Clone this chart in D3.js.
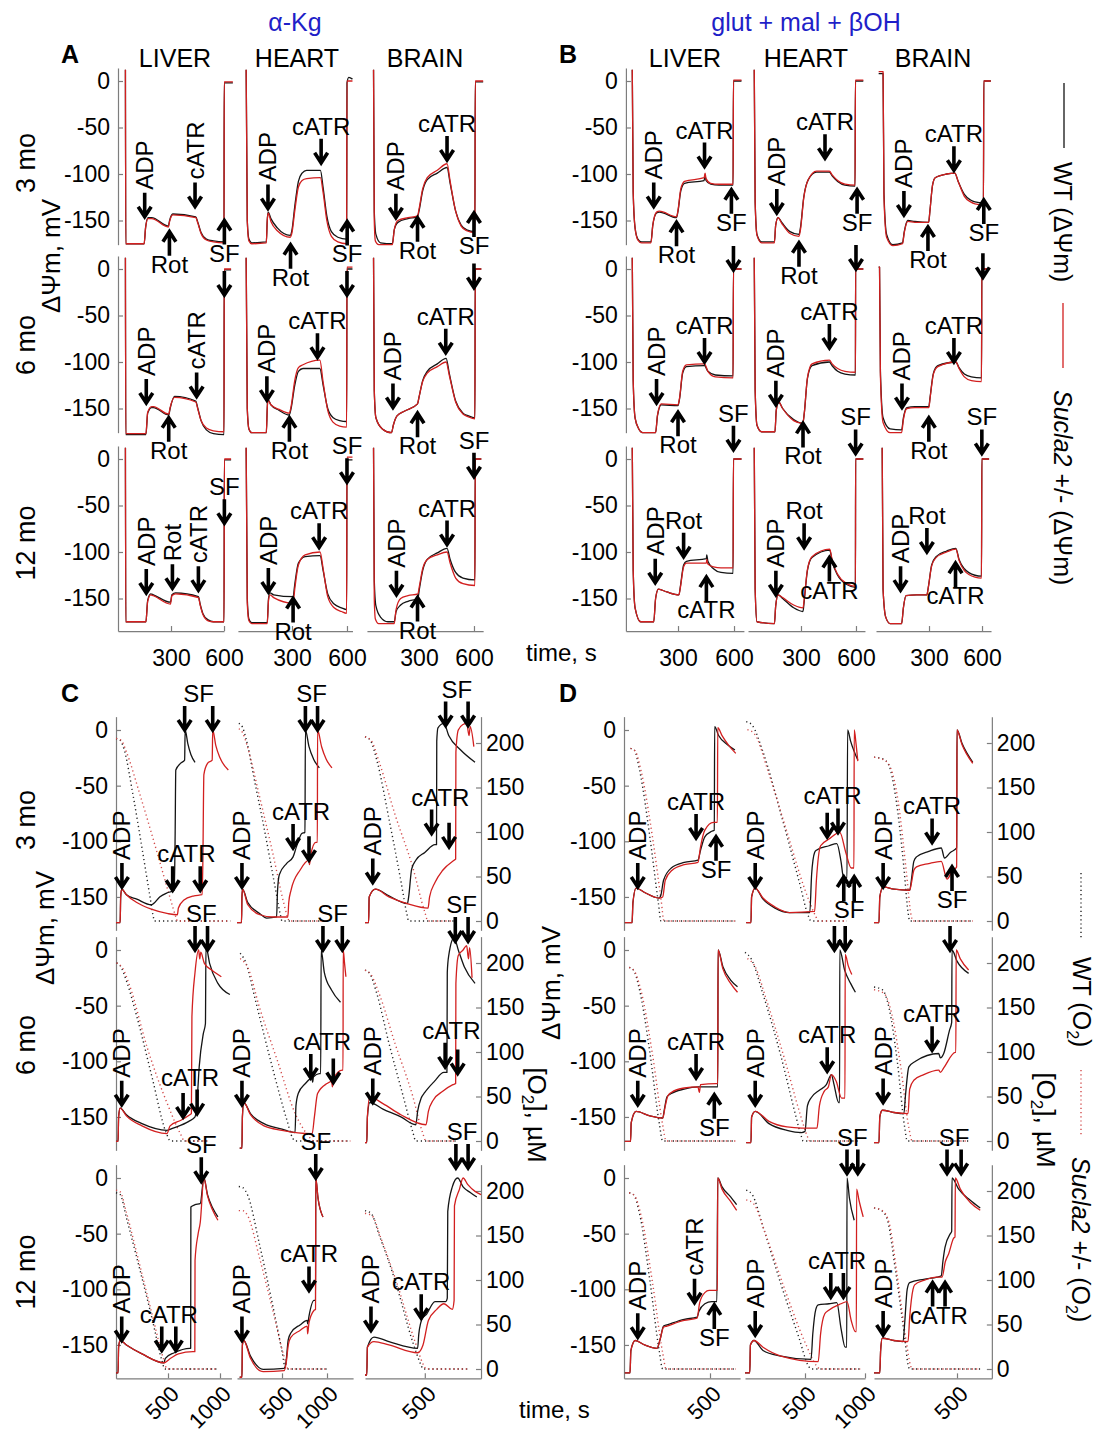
<!DOCTYPE html>
<html>
<head>
<meta charset="utf-8">
<script src="https://cdn.jsdelivr.net/npm/d3@7"></script>
<style>
  html, body { margin: 0; padding: 0; background: #fff; }
  svg { display: block; }
</style>
</head>
<body>
<script>
// ---------------------------------------------------------------
// Categories and tick values
// ---------------------------------------------------------------
const tissues = ["LIVER", "HEART", "BRAIN"];
const ages = ["3 mo", "6 mo", "12 mo"];
const ticksMV = [0, -50, -100, -150];
const ticksO2 = [0, 50, 100, 150, 200];
const ticksAB = [[300, 600], [300, 600], [300, 600]];
const ticksC = [[500, 1000], [500, 1000], [500]];
const ticksD = [[500], [500, 1000], [500]];

// ---------------------------------------------------------------
// Membrane potential traces, [time s, dPsi mV]; order: row (age) x column (tissue)
// A: alpha-ketoglutarate, B: glutamate + malate + beta-hydroxybutyrate
// ---------------------------------------------------------------
const psiA_wt = [
  [[42,12],[44,-175],[148,-175],[156,-158],[170,-147],[190,-147],[285,-156],[292,-150],[310,-143],[440,-146],[452,-152],[470,-163],[500,-170],[540,-172],[600,-173],[601,-2],[650,-2]],
  [[50,12],[56,-150],[65,-170],[80,-174],[160,-173],[165,-150],[170,-141],[185,-148],[220,-158],[290,-166],[300,-160],[315,-135],[335,-108],[355,-99],[380,-96],[455,-96],[470,-115],[490,-145],[515,-162],[550,-168],[598,-170],[600,-2],[610,4],[630,2]],
  [[52,12],[56,-140],[65,-165],[90,-174],[155,-175],[165,-160],[185,-152],[240,-148],[292,-146],[300,-140],[320,-118],[345,-106],[400,-99],[453,-93],[470,-110],[500,-140],[530,-155],[560,-160],[605,-162],[607,-1],[650,-1]],
  [[42,12],[44,-178],[158,-178],[168,-155],[190,-149],[200,-149],[287,-157],[295,-150],[320,-137],[440,-142],[452,-150],[470,-163],[500,-173],[540,-177],[600,-178],[601,-1],[640,-1]],
  [[50,12],[56,-150],[65,-172],[80,-176],[160,-176],[165,-150],[168,-140],[185,-146],[230,-152],[285,-157],[295,-150],[315,-125],[335,-110],[360,-107],[452,-107],[470,-125],[495,-150],[525,-160],[560,-163],[598,-164],[600,0],[630,0]],
  [[52,12],[56,-130],[65,-160],[100,-172],[150,-176],[160,-168],[180,-158],[220,-153],[292,-145],[300,-138],[320,-120],[345,-110],[400,-102],[448,-96],[465,-112],[500,-142],[540,-155],[570,-158],[605,-160],[607,0],[640,0]],
  [[42,12],[44,-175],[158,-175],[168,-152],[185,-145],[200,-146],[297,-154],[305,-146],[326,-144],[455,-148],[465,-156],[480,-166],[510,-173],[540,-175],[600,-175],[602,-1],[640,-1]],
  [[50,12],[56,-150],[65,-172],[80,-176],[165,-176],[172,-150],[180,-144],[200,-146],[306,-148],[315,-135],[335,-112],[372,-105],[453,-104],[470,-120],[495,-145],[530,-156],[570,-160],[598,-162],[600,-1],[630,-1]],
  [[52,12],[56,-130],[65,-158],[90,-170],[130,-175],[165,-175],[175,-164],[200,-157],[240,-153],[294,-150],[302,-140],[320,-120],[345,-108],[400,-101],[453,-96],[470,-108],[500,-122],[540,-128],[605,-130],[607,0],[640,0]]
];
const psiA_mut = [
  [[42,12],[44,-175],[148,-175],[156,-158],[170,-148],[190,-148],[285,-157],[292,-151],[310,-144],[440,-147],[452,-153],[470,-164],[500,-171],[540,-173],[600,-174],[601,-1],[650,-1]],
  [[50,12],[56,-150],[65,-172],[80,-175],[160,-174],[165,-150],[170,-142],[185,-151],[220,-161],[290,-168],[300,-163],[315,-140],[335,-114],[355,-107],[380,-105],[455,-104],[470,-120],[490,-150],[515,-167],[550,-173],[598,-175],[600,0],[630,0]],
  [[52,12],[56,-150],[62,-172],[80,-176],[155,-176],[165,-160],[185,-150],[240,-147],[292,-145],[300,-138],[320,-116],[345,-104],[400,-96],[453,-89],[470,-108],[500,-140],[530,-156],[560,-161],[605,-163],[607,0],[650,0]],
  [[42,12],[44,-177],[158,-177],[168,-154],[190,-148],[200,-148],[287,-156],[295,-149],[320,-138],[440,-143],[452,-151],[470,-163],[500,-171],[540,-174],[600,-175],[601,0],[640,0]],
  [[50,12],[56,-150],[65,-172],[80,-176],[160,-176],[165,-150],[168,-141],[185,-146],[230,-151],[285,-155],[295,-148],[315,-120],[335,-106],[360,-103],[452,-98],[470,-122],[495,-152],[525,-165],[560,-169],[598,-170],[600,2],[630,2]],
  [[52,12],[56,-130],[65,-160],[100,-172],[150,-176],[160,-168],[180,-158],[220,-153],[292,-145],[300,-138],[320,-121],[345,-112],[400,-105],[448,-100],[465,-114],[500,-143],[540,-156],[570,-159],[605,-161],[607,0],[640,0]],
  [[42,12],[44,-175],[158,-175],[168,-153],[185,-146],[200,-147],[297,-156],[305,-147],[326,-145],[455,-149],[465,-157],[480,-167],[510,-174],[540,-175],[600,-175],[602,0],[640,0]],
  [[50,12],[56,-155],[65,-174],[80,-177],[165,-177],[172,-152],[180,-146],[200,-149],[306,-155],[315,-140],[335,-114],[372,-103],[453,-100],[470,-118],[495,-148],[530,-160],[570,-164],[598,-166],[600,2],[630,2]],
  [[52,12],[56,-150],[62,-172],[80,-177],[165,-177],[175,-162],[200,-150],[240,-147],[294,-145],[302,-137],[320,-118],[345,-108],[400,-103],[453,-100],[470,-112],[500,-128],[540,-134],[605,-136],[607,0],[640,0]]
];
const psiB_wt = [
  [[55,12],[60,-120],[70,-158],[85,-170],[105,-173],[155,-173],[165,-155],[185,-142],[200,-141],[292,-147],[300,-140],[315,-118],[335,-110],[440,-107],[445,-101],[450,-107],[475,-111],[520,-112],[595,-112],[597,0],[640,0]],
  [[45,12],[50,-130],[60,-165],[85,-173],[155,-173],[162,-155],[175,-147],[195,-152],[240,-162],[289,-165],[297,-158],[315,-125],[340,-106],[385,-98],[455,-98],[470,-102],[500,-108],[540,-112],[595,-113],[597,0],[640,0]],
  [[15,8],[40,8],[45,-120],[60,-165],[95,-176],[150,-174],[160,-162],[180,-150],[220,-151],[298,-152],[305,-140],[320,-112],[335,-104],[400,-100],[446,-99],[465,-108],[500,-122],[535,-128],[560,-130],[608,-131],[610,0],[650,0]],
  [[55,12],[60,-120],[70,-160],[90,-172],[110,-176],[180,-176],[190,-158],[210,-146],[300,-147],[308,-140],[325,-112],[345,-105],[442,-104],[460,-110],[500,-114],[595,-115],[597,0],[640,0]],
  [[45,12],[50,-130],[60,-168],[85,-175],[158,-175],[165,-152],[178,-143],[200,-150],[260,-162],[310,-166],[318,-155],[335,-118],[360,-104],[455,-100],[470,-104],[500,-110],[540,-113],[597,-114],[598,0],[640,0]],
  [[15,2],[20,2],[25,-110],[40,-160],[80,-172],[145,-173],[155,-160],[175,-149],[220,-148],[299,-148],[306,-138],[325,-112],[350,-104],[452,-100],[470,-106],[500,-113],[540,-116],[597,-117],[599,0],[640,0]],
  [[55,12],[60,-120],[70,-160],[100,-175],[170,-175],[180,-150],[195,-140],[240,-143],[305,-146],[312,-138],[330,-114],[345,-110],[452,-107],[454,-103],[460,-110],[490,-118],[530,-122],[595,-123],[597,0],[640,0]],
  [[45,12],[50,-140],[60,-175],[155,-177],[162,-158],[175,-146],[200,-150],[260,-160],[311,-164],[318,-152],[335,-120],[360,-106],[457,-98],[470,-110],[500,-125],[550,-135],[597,-138],[598,0],[640,0]],
  [[35,12],[40,-140],[55,-170],[80,-177],[145,-177],[155,-160],[170,-147],[230,-146],[288,-146],[296,-138],[315,-114],[340,-105],[400,-99],[452,-96],[470,-108],[500,-118],[560,-125],[597,-126],[599,0],[640,0]]
];
const psiB_mut = [
  [[55,12],[60,-120],[70,-158],[85,-171],[105,-174],[155,-174],[165,-155],[185,-141],[200,-140],[292,-146],[300,-139],[315,-116],[335,-108],[440,-104],[445,-99],[450,-105],[475,-110],[520,-111],[595,-111],[597,1],[640,1]],
  [[45,12],[50,-130],[60,-166],[85,-174],[155,-174],[162,-155],[175,-147],[195,-153],[240,-164],[289,-167],[297,-160],[315,-126],[340,-106],[385,-97],[455,-97],[470,-101],[500,-107],[540,-111],[595,-112],[597,1],[640,1]],
  [[15,10],[40,10],[45,-125],[60,-168],[95,-177],[150,-175],[160,-163],[180,-151],[220,-152],[298,-152],[305,-140],[320,-112],[335,-104],[400,-100],[446,-99],[465,-108],[500,-124],[535,-130],[560,-132],[608,-133],[610,0],[650,0]],
  [[55,12],[60,-120],[70,-160],[90,-172],[110,-176],[180,-176],[190,-157],[210,-145],[300,-146],[308,-139],[325,-110],[345,-103],[442,-102],[460,-110],[500,-116],[595,-117],[597,0],[640,0]],
  [[45,12],[50,-130],[60,-168],[85,-175],[158,-175],[165,-152],[178,-143],[200,-150],[260,-163],[310,-166],[318,-155],[335,-117],[360,-102],[455,-98],[470,-102],[500,-107],[540,-110],[597,-111],[598,0],[640,0]],
  [[15,2],[20,2],[25,-115],[40,-165],[80,-176],[145,-176],[155,-162],[175,-150],[220,-149],[299,-149],[306,-139],[325,-113],[350,-105],[452,-100],[470,-107],[500,-116],[540,-120],[597,-121],[599,0],[640,0]],
  [[55,12],[60,-120],[70,-160],[100,-175],[170,-175],[180,-150],[195,-140],[240,-143],[305,-146],[312,-139],[330,-116],[345,-112],[452,-112],[454,-108],[460,-113],[490,-116],[530,-117],[595,-117],[597,0],[640,0]],
  [[45,12],[50,-140],[60,-175],[155,-177],[162,-158],[175,-146],[200,-149],[260,-157],[311,-160],[318,-150],[335,-119],[360,-105],[457,-97],[470,-109],[500,-124],[550,-134],[597,-137],[598,0],[640,0]],
  [[35,12],[40,-140],[55,-170],[80,-177],[145,-177],[155,-160],[170,-147],[230,-146],[288,-146],[296,-138],[315,-115],[340,-106],[400,-100],[452,-97],[470,-109],[500,-120],[560,-127],[597,-128],[599,0],[640,0]]
];

// ---------------------------------------------------------------
// C: alpha-ketoglutarate, D: glutamate + malate + beta-hydroxybutyrate,
// dPsi (mV) together with oxygen in the chamber (uM)
// ---------------------------------------------------------------
const psiC_wt = [
  [[0,-173],[40,-173],[45,-150],[55,-143],[100,-148],[200,-152],[340,-157],[360,-156],[420,-150],[500,-146],[560,-144],[568,-100],[575,-36],[620,-30],[660,-27],[665,0],[690,-12],[720,-22],[760,-29]],
  [[0,-173],[50,-173],[55,-150],[62,-143],[120,-155],[255,-165],[330,-169],[440,-168],[450,-145],[470,-130],[550,-120],[623,-114],[660,-105],[720,-93],[755,-92],[760,0],[800,-15],[850,-26],[915,-34]],
  [[0,-173],[30,-173],[35,-150],[87,-143],[200,-149],[355,-156],[365,-150],[390,-125],[425,-117],[500,-110],[585,-103],[598,-103],[600,-10],[610,2],[660,6],[700,-5],[800,-18],[920,-29]],
  [[0,-172],[20,-172],[25,-150],[40,-142],[100,-148],[250,-156],[490,-162],[550,-160],[700,-154],[760,-150],[780,-135],[800,-105],[840,-75],[860,-66],[865,3],[900,-12],[980,-30],[1095,-40]],
  [[30,-178],[55,-178],[60,-150],[75,-137],[150,-147],[300,-156],[500,-161],[645,-164],[655,-140],[680,-129],[760,-120],[835,-115],[840,-119],[850,-114],[915,-111],[930,-111],[935,0],[970,-20],[1050,-36],[1150,-47]],
  [[0,-173],[15,-173],[20,-150],[40,-137],[150,-143],[300,-150],[425,-157],[440,-145],[470,-133],[500,-128],[580,-118],[660,-110],[685,-110],[688,-20],[700,-5],[745,11],[780,0],[830,-15],[920,-30]],
  [[0,-175],[20,-175],[25,-152],[40,-146],[100,-150],[250,-158],[460,-166],[475,-162],[560,-157],[710,-153],[718,-153],[720,-26],[760,-24],[810,-23],[845,0],[880,-15],[930,-27],[980,-35]],
  [[30,-179],[55,-179],[60,-150],[75,-146],[150,-160],[290,-172],[525,-171],[545,-165],[570,-145],[600,-139],[700,-132],[780,-128],[785,-131],[800,-124],[855,-110],[873,-110],[875,0],[900,-18],[955,-35]],
  [[0,-177],[15,-177],[20,-152],[75,-143],[200,-147],[440,-153],[450,-140],[480,-126],[510,-123],[585,-111],[675,-111],[688,-108],[692,-30],[730,-8],[775,0],[820,-8],[880,-13],[935,-17]]
];
const psiC_mut = [
  [[0,-173],[40,-173],[45,-150],[55,-143],[100,-148],[200,-155],[340,-161],[500,-165],[590,-166],[600,-160],[650,-153],[750,-149],[828,-148],[835,-120],[845,-40],[880,-30],[925,-27],[930,0],[960,-14],[1000,-25],[1080,-36]],
  [[0,-173],[50,-173],[55,-150],[62,-143],[120,-157],[255,-166],[400,-168],[565,-168],[575,-155],[600,-144],[700,-126],[800,-117],[805,-121],[820,-112],[875,-101],[893,-101],[895,0],[940,-15],[990,-26],[1055,-34]],
  [[0,-173],[30,-173],[35,-150],[87,-143],[200,-150],[355,-156],[527,-160],[540,-150],[585,-137],[650,-126],[745,-117],[758,-116],[760,-20],[780,0],[820,5],[850,6],[870,-5],[880,3],[910,-15]],
  [[0,-172],[20,-172],[25,-150],[40,-142],[100,-149],[250,-158],[490,-165],[520,-158],[625,-153],[710,-148],[725,-147],[730,-60],[760,-20],[795,0],[805,-8],[815,-2],[850,-12],[920,-18],[1013,-24]],
  [[30,-178],[55,-178],[60,-150],[75,-137],[150,-148],[300,-158],[500,-162],[835,-165],[860,-150],[895,-129],[1000,-120],[1052,-118],[1060,-123],[1070,-116],[1170,-108],[1178,-108],[1180,0],[1195,-12],[1210,-24]],
  [[0,-173],[15,-173],[20,-150],[40,-132],[150,-138],[300,-148],[510,-157],[530,-145],[570,-135],[650,-127],[735,-121],[758,-120],[760,-30],[780,-5],[820,0],[850,4],[865,-8],[875,2],[895,-25]],
  [[0,-175],[20,-175],[25,-152],[40,-146],[100,-150],[250,-158],[460,-166],[525,-162],[600,-158],[740,-156],[758,-156],[760,-74],[790,-50],[810,-40],[845,0],[880,-16],[930,-29],[980,-38]],
  [[30,-179],[55,-179],[60,-150],[75,-146],[150,-162],[290,-174],[525,-173],[545,-167],[570,-150],[600,-143],[700,-137],[780,-133],[785,-140],[800,-130],[855,-119],[873,-118],[875,0],[900,-18],[955,-35]],
  [[0,-177],[15,-177],[20,-152],[75,-147],[200,-150],[440,-157],[485,-150],[530,-128],[600,-118],[660,-113],[730,-118],[745,-110],[748,-25],[790,-10],[820,0],[860,-6],[920,-12],[970,-15]]
];
const o2C_wt = [
  [[0,205],[40,203],[80,192],[160,144],[250,82],[330,25],[360,4],[370,0],[1100,0]],
  [[20,222],[60,218],[100,205],[200,155],[300,105],[420,40],[480,8],[500,0],[1000,0]],
  [[0,207],[40,204],[100,180],[200,115],[300,45],[350,8],[365,0],[740,0]],
  [[5,200],[40,197],[100,180],[200,140],[350,70],[480,10],[525,0],[880,0]],
  [[35,211],[100,200],[200,160],[400,80],[550,25],[620,3],[645,0],[1260,0]],
  [[0,192],[40,188],[100,165],[200,110],[320,50],[400,10],[425,0],[760,0]],
  [[0,198],[40,196],[100,170],[200,125],[350,55],[440,10],[470,0],[980,0]],
  [[20,205],[60,204],[120,195],[250,140],[400,70],[500,20],[540,0],[1000,0]],
  [[0,178],[50,175],[120,150],[250,100],[400,30],[470,4],[485,0],[870,0]]
];
const o2C_mut = [
  [[0,205],[50,203],[100,190],[225,144],[400,75],[530,22],[580,3],[590,0],[1100,0]],
  [[20,216],[60,212],[110,198],[250,140],[400,75],[520,20],[570,2],[580,0],[1000,0]],
  [[0,207],[50,203],[120,178],[250,120],[400,60],[500,10],[527,0],[740,0]],
  [[5,200],[60,195],[130,175],[300,105],[500,40],[620,8],[660,0],[880,0]],
  [[35,205],[120,195],[250,150],[450,90],[650,30],[800,5],[850,0],[1260,0]],
  [[0,192],[50,187],[120,165],[250,110],[400,50],[480,10],[510,0],[760,0]],
  [[0,201],[40,199],[100,176],[200,130],[350,60],[460,10],[490,0],[980,0]],
  [[20,178],[60,178],[120,172],[250,125],[400,65],[520,15],[570,0],[1000,0]],
  [[0,175],[60,172],[130,148],[270,95],[420,30],[495,3],[510,0],[870,0]]
];
const psiD_wt = [
  [[5,-173],[47,-173],[52,-155],[70,-142],[120,-146],[203,-151],[215,-148],[230,-135],[275,-124],[350,-119],[430,-117],[445,-108],[470,-96],[510,-91],[525,-90],[527,3],[550,-5],[600,-13],[645,-18]],
  [[10,-173],[50,-173],[55,-150],[85,-142],[150,-152],[250,-160],[370,-164],[540,-164],[555,-130],[580,-110],[595,-108],[700,-104],[765,-102],[800,-118],[820,-132],[850,-133],[855,0],[880,-10],[940,-27]],
  [[0,-173],[30,-173],[35,-150],[55,-141],[120,-143],[215,-144],[225,-135],[240,-118],[256,-114],[330,-109],[405,-106],[425,-115],[460,-110],[498,-106],[500,0],[530,-12],[595,-29]],
  [[5,-172],[38,-172],[42,-155],[70,-145],[150,-149],[225,-151],[235,-143],[250,-132],[275,-129],[350,-125],[430,-123],[535,-123],[545,-123],[547,0],[575,-15],[620,-27],[660,-33]],
  [[10,-173],[50,-173],[55,-150],[85,-145],[200,-156],[350,-162],[470,-164],[500,-163],[520,-140],[550,-133],[620,-126],[678,-121],[720,-112],[740,-120],[780,-137],[788,-137],[790,0],[830,-18],[880,-30],[920,-38]],
  [[0,-173],[30,-173],[35,-150],[50,-144],[120,-146],[180,-147],[190,-130],[210,-105],[250,-100],[390,-93],[400,-97],[420,-93],[455,-72],[468,-65],[470,0],[500,-10],[570,-21]],
  [[5,-175],[35,-175],[40,-155],[65,-146],[120,-150],[192,-153],[210,-145],[230,-133],[250,-132],[350,-127],[425,-125],[435,-120],[470,-113],[510,-111],[540,-111],[545,0],[570,-8],[620,-17],[655,-24]],
  [[0,-175],[40,-175],[45,-150],[75,-146],[150,-155],[300,-160],[550,-163],[565,-140],[590,-118],[610,-114],[700,-113],[765,-112],[800,-135],[835,-152],[848,-152],[850,0],[870,-18],[910,-38]],
  [[0,-175],[35,-175],[40,-155],[50,-144],[120,-146],[175,-147],[185,-130],[200,-100],[215,-94],[300,-91],[380,-89],[405,-88],[415,-75],[428,-62],[460,-50],[468,-48],[470,0],[510,-10],[580,-20],[640,-27]]
];
const psiD_mut = [
  [[5,-173],[47,-173],[52,-155],[70,-142],[120,-146],[203,-151],[225,-150],[240,-135],[280,-126],[350,-121],[430,-119],[445,-105],[470,-90],[520,-83],[543,-83],[545,2],[570,-5],[610,-14],[650,-21]],
  [[10,-173],[50,-173],[55,-150],[85,-142],[150,-151],[250,-159],[370,-164],[580,-163],[595,-135],[630,-104],[700,-98],[790,-92],[840,-110],[885,-124],[908,-124],[910,0],[925,-12],[940,-28]],
  [[0,-173],[30,-173],[35,-150],[55,-141],[120,-143],[215,-144],[225,-138],[240,-126],[256,-123],[330,-120],[405,-118],[440,-134],[470,-127],[498,-123],[500,0],[530,-13],[595,-30]],
  [[5,-172],[38,-172],[42,-155],[70,-145],[150,-149],[225,-151],[240,-140],[255,-131],[275,-128],[350,-124],[430,-123],[438,-128],[445,-121],[535,-120],[545,-120],[547,0],[575,-17],[620,-30],[660,-38]],
  [[10,-173],[50,-173],[55,-150],[85,-145],[200,-154],[350,-159],[470,-160],[600,-160],[620,-140],[660,-127],[695,-123],[720,-112],[760,-118],[805,-133],[833,-133],[835,-4],[860,-14],[890,-22]],
  [[0,-173],[30,-173],[35,-150],[50,-144],[120,-146],[205,-147],[215,-125],[240,-117],[300,-112],[390,-108],[400,-110],[420,-106],[490,-92],[493,-92],[495,0],[520,-8],[570,-18]],
  [[5,-175],[35,-175],[40,-155],[65,-146],[120,-150],[192,-153],[210,-145],[230,-134],[250,-133],[350,-128],[425,-126],[440,-112],[470,-103],[495,-101],[530,-101],[543,-101],[545,0],[570,-10],[620,-21],[655,-29]],
  [[0,-175],[40,-175],[45,-150],[75,-146],[150,-152],[300,-160],[610,-165],[630,-140],[665,-122],[695,-119],[800,-113],[850,-111],[885,-128],[920,-138],[928,-138],[930,-10],[950,-20],[985,-35]],
  [[0,-175],[35,-175],[40,-155],[50,-144],[120,-146],[205,-147],[215,-125],[235,-100],[245,-96],[300,-92],[380,-89],[410,-89],[430,-75],[450,-68],[480,-54],[488,-53],[490,0],[520,-10],[580,-22],[640,-29]]
];
const o2D_wt = [
  [[38,194],[60,192],[90,170],[150,95],[200,20],[215,0],[650,0]],
  [[10,224],[60,220],[150,190],[300,120],[450,45],[530,5],[550,0],[850,0]],
  [[0,184],[55,182],[90,175],[130,140],[180,60],[205,10],[215,0],[595,0]],
  [[30,195],[55,192],[90,170],[150,100],[205,20],[225,0],[650,0]],
  [[0,212],[50,205],[150,165],[300,95],[420,30],[470,5],[485,0],[950,0]],
  [[0,173],[50,170],[90,150],[140,90],[185,15],[200,0],[570,0]],
  [[30,198],[55,196],[90,175],[150,100],[205,20],[225,0],[650,0]],
  [[10,201],[60,196],[150,160],[300,95],[450,35],[530,3],[550,0],[960,0]],
  [[0,181],[45,178],[80,168],[130,110],[185,35],[205,5],[215,0],[640,0]]
];
const o2D_mut = [
  [[38,194],[65,191],[100,168],[165,95],[215,25],[233,0],[650,0]],
  [[20,215],[80,210],[200,165],[350,100],[500,35],[590,5],[610,0],[850,0]],
  [[0,184],[60,181],[100,172],[145,135],[195,55],[222,8],[235,0],[595,0]],
  [[30,195],[60,191],[100,168],[165,98],[225,18],[245,0],[650,0]],
  [[20,205],[80,197],[180,158],[330,92],[460,30],[520,5],[540,0],[950,0]],
  [[0,170],[60,166],[100,148],[160,85],[210,15],[230,0],[570,0]],
  [[30,198],[60,195],[100,172],[165,98],[225,18],[245,0],[650,0]],
  [[10,190],[70,186],[170,152],[330,90],[500,30],[600,3],[625,0],[960,0]],
  [[0,181],[50,178],[90,165],[140,105],[195,30],[220,4],[230,0],[640,0]]
];

// ---------------------------------------------------------------
// Additions: [cell, label, label placement, arrow direction, [[time, mV at arrow tip], ...]]
// placement: v = vertical text above, a = text above, b = text below, "" = arrow only
// ---------------------------------------------------------------
const eventsA = [
  [0,"ADP","v","d",[[151,-146]]],[0,"Rot","b","u",[[291,-162]]],[0,"cATR","v","d",[[436,-135]]],[0,"SF","b","u",[[602,-150]]],
  [1,"ADP","v","d",[[169,-137]]],[1,"Rot","b","u",[[292,-176]]],[1,"cATR","a","d",[[459,-88]]],[1,"SF","b","u",[[601,-151]]],
  [2,"ADP","v","d",[[174,-147]]],[2,"Rot","b","u",[[292,-147]]],[2,"cATR","a","d",[[453,-85]]],[2,"SF","b","u",[[600,-142]]],
  [3,"","","d",[[602,-28]]],[4,"","","d",[[600,-28]]],[5,"","","d",[[600,-20]]],
  [3,"ADP","v","d",[[160,-144]]],[3,"Rot","b","u",[[287,-160]]],[3,"cATR","v","d",[[445,-137]]],
  [4,"ADP","v","d",[[163,-141]]],[4,"Rot","b","u",[[286,-160]]],[4,"cATR","a","d",[[439,-95]]],
  [5,"ADP","v","d",[[158,-149]]],[5,"Rot","b","u",[[292,-155]]],[5,"cATR","a","d",[[446,-90]]],
  [6,"ADP","v","d",[[160,-144]]],[6,"Rot","v","d",[[308,-139]]],[6,"cATR","v","d",[[455,-141]]],[6,"SF","a","d",[[602,-69]]],
  [7,"ADP","v","d",[[171,-143]]],[7,"Rot","b","u",[[306,-150]]],[7,"cATR","a","d",[[448,-95]]],[7,"SF","a","d",[[600,-25]]],
  [8,"ADP","v","d",[[177,-146]]],[8,"Rot","b","u",[[292,-149]]],[8,"cATR","a","d",[[453,-92]]],[8,"SF","a","d",[[600,-19]]]
];
const eventsB = [
  [0,"ADP","v","d",[[170,-135]]],[0,"cATR","a","d",[[442,-92]]],[0,"Rot","b","u",[[292,-152]]],[0,"SF","b","u",[[586,-117]]],
  [1,"ADP","v","d",[[168,-142]]],[1,"cATR","a","d",[[431,-83]]],[1,"Rot","b","u",[[289,-174]]],[1,"SF","b","u",[[606,-117]]],
  [2,"ADP","v","d",[[158,-144]]],[2,"cATR","a","d",[[441,-96]]],[2,"Rot","b","u",[[294,-157]]],[2,"SF","b","u",[[610,-128]]],
  [3,"","","d",[[597,-1]]],[4,"","","d",[[600,0]]],[5,"","","d",[[605,-9]]],
  [3,"ADP","v","d",[[185,-144]]],[3,"cATR","a","d",[[442,-100]]],[3,"Rot","b","u",[[300,-154]]],
  [4,"ADP","v","d",[[163,-146]]],[4,"cATR","a","d",[[455,-85]]],[4,"Rot","b","u",[[311,-166]]],
  [5,"ADP","v","d",[[147,-149]]],[5,"cATR","a","d",[[441,-100]]],[5,"Rot","b","u",[[299,-160]]],
  [6,"SF","a","d",[[597,10]]],[7,"SF","a","d",[[598,6]]],[8,"SF","a","d",[[599,6]]],
  [6,"ADP","v","d",[[178,-133]]],[6,"Rot","a","d",[[330,-105]]],[6,"cATR","b","u",[[452,-127]]],
  [7,"ADP","v","d",[[163,-146]]],[7,"Rot","a","d",[[317,-95]]],[7,"cATR","b","u",[[455,-106]]],
  [8,"ADP","v","d",[[139,-141]]],[8,"Rot","a","d",[[288,-100]]],[8,"cATR","b","u",[[450,-112]]]
];
const eventsC = [
  [0,"ADP","v","d",[[57,-141]]],[0,"cATR","a","d",[[545,-144],[810,-144]]],[0,"SF","a","d",[[660,0],[930,0]]],
  [1,"ADP","v","d",[[55,-141]]],[1,"cATR","a","d",[[623,-106],[800,-117]]],[1,"SF","a","d",[[760,0],[895,0]]],
  [2,"ADP","v","d",[[65,-137]]],[2,"cATR","a","d",[[557,-93],[703,-105]]],[2,"SF","a","d",[[674,4],[862,4]]],
  [3,"ADP","v","d",[[55,-139]]],[3,"cATR","a","d",[[645,-150],[780,-147]]],[3,"SF","a","d",[[760,0],[880,0]]],
  [4,"ADP","v","d",[[55,-139]]],[4,"cATR","a","d",[[820,-115],[1070,-119]]],[4,"SF","a","d",[[955,0],[1170,0]]],
  [5,"ADP","v","d",[[65,-137]]],[5,"cATR","a","d",[[670,-105],[775,-111]]],[5,"SF","a","d",[[755,8],[862,8]]],
  [6,"ADP","v","d",[[55,-146]]],[6,"cATR","a","d",[[440,-155],[575,-155]]],[6,"SF","a","d",[[820,-3]]],
  [7,"ADP","v","d",[[55,-146]]],[7,"cATR","a","d",[[800,-101]]],[7,"SF","a","d",[[875,0]]],
  [8,"ADP","v","d",[[50,-137]]],[8,"cATR","a","d",[[470,-126]]],[8,"SF","a","d",[[760,9],[862,9]]]
];
const eventsD = [
  [0,"ADP","v","d",[[80,-141]]],[0,"cATR","a","d",[[419,-97]]],[0,"SF","b","u",[[535,-96]]],
  [1,"ADP","v","d",[[85,-141]]],[1,"cATR","a","d",[[685,-96],[775,-92]]],[1,"SF","b","u",[[823,-132],[910,-132]]],
  [2,"ADP","v","d",[[55,-141]]],[2,"cATR","a","d",[[350,-101]]],[2,"SF","b","u",[[470,-123]]],
  [3,"ADP","v","d",[[80,-139]]],[3,"cATR","a","d",[[419,-115]]],[3,"SF","b","u",[[525,-130]]],
  [4,"ADP","v","d",[[85,-139]]],[4,"cATR","a","d",[[685,-109]]],[4,"","","d",[[745,0],[835,0]]],
  [5,"ADP","v","d",[[55,-137]]],[5,"cATR","a","d",[[350,-90]]],[5,"","","d",[[458,0]]],
  [6,"ADP","v","d",[[80,-143]]],[6,"cATR","v","d",[[410,-112]]],[6,"SF","b","u",[[525,-114]]],
  [7,"ADP","v","d",[[85,-141]]],[7,"cATR","a","d",[[715,-107],[820,-107]]],[7,"SF","a","d",[[850,4],[940,4]]],
  [8,"ADP","v","d",[[55,-141]]],[8,"cATR","b","u",[[353,-94],[428,-94]]],[8,"SF","a","d",[[440,4],[525,4]]]
];

// ---------------------------------------------------------------
// Drawing
// ---------------------------------------------------------------
const FONT = "'Liberation Sans', Arial, Helvetica, sans-serif";
const BLACK = "#141414", RED = "#d21f1f", AXIS = "#7d7d7d", BLUE = "#1f1fc8";
const W = 1097, H = 1437;

const svg = d3.select("body").append("svg")
  .attr("width", W).attr("height", H)
  .attr("font-family", FONT);
svg.append("rect").attr("width", W).attr("height", H).attr("fill", "#fff");

const layout = {
  A: {x0: [118, 237, 364], kx: [0.1767, 0.1833, 0.1833], xext: [[0, 600], [5, 630], [16, 650]],
      z: [81, 269, 459], ky: 0.93, vext: [[-176, 14], [-176, 14], [-185, 14]], ticks: ticksAB,
      wt: psiA_wt, mut: psiA_mut, ev: eventsA},
  B: {x0: [622, 746, 876], kx: [0.1867, 0.1833, 0.1767], xext: [[21, 653], [11, 649], [0, 651]],
      z: [81, 269, 459], ky: 0.93, vext: [[-176, 14], [-176, 14], [-185, 14]], ticks: ticksAB,
      wt: psiB_wt, mut: psiB_mut, ev: eventsB},
  C: {x0: [116, 237, 365], kx: [0.104, 0.09, 0.1196], xext: [[0, 1110], [0, 1290], [0, 970]],
      z: [730, 950, 1178], ky: 1.113, vext: [[-180, 12], [-180, 12], [-180, 12]], ticks: ticksC,
      wt: psiC_wt, mut: psiC_mut, o2wt: o2C_wt, o2mut: o2C_mut, ev: eventsC, rotTicks: true},
  D: {x0: [624, 745, 874], kx: [0.172, 0.12, 0.166], xext: [[0, 675], [0, 1000], [0, 710]],
      z: [730, 950, 1178], ky: 1.113, vext: [[-180, 12], [-180, 12], [-180, 12]], ticks: ticksD,
      wt: psiD_wt, mut: psiD_mut, o2wt: o2D_wt, o2mut: o2D_mut, ev: eventsD, rotTicks: true}
};
const O2_OFF = 191, O2_K = 0.89;
const ARROW = 24;

function styleAxis(g, size) {
  g.attr("font-family", FONT).attr("font-size", size);
  g.selectAll("path.domain").attr("stroke", AXIS).attr("stroke-width", 1.2);
  g.selectAll(".tick line").attr("stroke", AXIS).attr("stroke-width", 1.2);
  g.selectAll(".tick text").attr("fill", "#000");
}

function drawArrow(g, x, tip, dir) {
  const s = dir === "d" ? -1 : 1;
  const tail = tip + s * ARROW;
  g.append("path")
    .attr("d", `M${x},${tail}L${x},${tip}M${x - 6.5},${tip + s * 10}L${x},${tip}L${x + 6.5},${tip + s * 10}`)
    .attr("fill", "none").attr("stroke", "#000").attr("stroke-width", 3.6)
    .attr("stroke-linejoin", "miter");
}

function drawPanel(key) {
  const P = layout[key];
  const g = svg.append("g");
  const cells = [];
  for (let r = 0; r < 3; r++) {
    for (let c = 0; c < 3; c++) {
      const xe = P.xext[c];
      const x = d3.scaleLinear().domain(xe)
        .range([P.x0[c] + xe[0] * P.kx[c], P.x0[c] + xe[1] * P.kx[c]]);
      const ve = P.vext[r];
      const y = d3.scaleLinear().domain(ve).range([P.z[r] - ve[0] * P.ky, P.z[r] - ve[1] * P.ky]);
      const yTop = y(ve[1]), yBot = y(ve[0]);
      const base = P.z[r] + O2_OFF;
      const yO = d3.scaleLinear()
        .domain([(base - yBot) / O2_K, (base - yTop) / O2_K])
        .range([yBot, yTop]);
      cells.push({r, c, x, y, yO});
    }
  }

  cells.forEach((cell, i) => {
    const {r, c, x, y, yO} = cell;
    // left axis on the liver column
    if (c === 0) {
      const ax = g.append("g").attr("transform", `translate(${x.range()[0]},0)`)
        .call(d3.axisLeft(y).tickValues(ticksMV).tickSize(-5).tickSizeOuter(0)
          .tickPadding(8).tickFormat(d => String(d)));
      styleAxis(ax, 23);
    }
    // oxygen axis on the brain column
    if (P.o2wt && c === 2) {
      const ax = g.append("g").attr("transform", `translate(${x.range()[1]},0)`)
        .call(d3.axisRight(yO).tickValues(ticksO2).tickSize(-5).tickSizeOuter(0)
          .tickPadding(5).tickFormat(d => String(d)));
      styleAxis(ax, 23);
    }
    // time axis under the last row
    if (r === 2) {
      const yb = y.range()[0];
      const ax = g.append("g").attr("transform", `translate(0,${yb})`)
        .call(d3.axisBottom(x).tickValues(P.ticks[c]).tickSize(-5).tickSizeOuter(0)
          .tickPadding(19).tickFormat(d => String(d)));
      styleAxis(ax, 23);
      if (P.rotTicks) {
        ax.selectAll(".tick text")
          .attr("font-size", 22)
          .attr("x", 0).attr("y", 0).attr("dy", 0)
          .attr("text-anchor", "end")
          .attr("transform", "translate(12,17) rotate(-45)");
      }
    }
    const line = d3.line().x(d => x(d[0])).y(d => y(d[1])).curve(d3.curveMonotoneX);
    if (P.o2wt) {
      const lineO = d3.line().x(d => x(d[0])).y(d => yO(d[1])).curve(d3.curveMonotoneX);
      g.append("path").attr("d", lineO(P.o2wt[i])).attr("fill", "none")
        .attr("stroke", "#222").attr("stroke-width", 1.4).attr("stroke-dasharray", "1.2,3");
      g.append("path").attr("d", lineO(P.o2mut[i])).attr("fill", "none")
        .attr("stroke", "#d24a4a").attr("stroke-width", 1.4).attr("stroke-dasharray", "1.2,3");
    }
    g.append("path").attr("d", line(P.wt[i])).attr("fill", "none")
      .attr("stroke", BLACK).attr("stroke-width", 1.3).attr("stroke-linejoin", "round");
    g.append("path").attr("d", line(P.mut[i])).attr("fill", "none")
      .attr("stroke", RED).attr("stroke-width", 1.3).attr("stroke-linejoin", "round");
  });

  // additions: arrows and labels
  P.ev.forEach(([ci, label, mode, dir, pts]) => {
    const {x, y} = cells[ci];
    const xs = pts.map(p => x(p[0]));
    const tips = pts.map(p => y(p[1]));
    pts.forEach((p, k) => drawArrow(g, xs[k], tips[k], dir));
    if (!label) return;
    const cx = d3.mean(xs);
    const t = g.append("text").attr("font-size", 24).attr("fill", "#000").text(label);
    if (mode === "v") {
      const tail = d3.min(tips) - ARROW;
      t.attr("text-anchor", "start").attr("transform", `translate(${cx + 8.5},${tail - 3}) rotate(-90)`);
    } else if (mode === "a") {
      const tail = d3.min(tips) - ARROW;
      t.attr("text-anchor", "middle").attr("x", cx).attr("y", tail - 4);
    } else {
      const tail = d3.max(tips) + ARROW;
      t.attr("text-anchor", "middle").attr("x", cx).attr("y", tail + 17);
    }
  });
}

["A", "B", "C", "D"].forEach(drawPanel);

// ---------------------------------------------------------------
// Titles, panel letters, headers, row labels, legends
// ---------------------------------------------------------------
const txt = (x, y, s, opts = {}) => {
  const t = svg.append("text").attr("x", x).attr("y", y).text(s)
    .attr("font-size", opts.size || 25).attr("fill", opts.fill || "#000")
    .attr("text-anchor", opts.anchor || "middle");
  if (opts.bold) t.attr("font-weight", "bold");
  return t;
};
const rtxt = (x, y, angle, anchor, size) => svg.append("text")
  .attr("transform", `translate(${x},${y}) rotate(${angle})`)
  .attr("text-anchor", anchor).attr("font-size", size).attr("fill", "#000");

txt(295, 31, "α-Kg", {fill: BLUE});
txt(806, 31, "glut + mal + βOH", {fill: BLUE});
txt(61, 63, "A", {bold: true, anchor: "start"});
txt(559, 63, "B", {bold: true, anchor: "start"});
txt(61, 702, "C", {bold: true, anchor: "start"});
txt(559, 702, "D", {bold: true, anchor: "start"});

[[175, 297, 425], [685, 806, 933]].forEach(xs =>
  xs.forEach((x, i) => txt(x, 67, tissues[i])));

// age labels
[[163, 345, 543], [820, 1045, 1272]].forEach(ys =>
  ys.forEach((y, i) => rtxt(35, y, -90, "middle", 27).text(ages[i])));

// dPsi axis titles
rtxt(60, 256, -90, "middle", 26).text("ΔΨm, mV");
rtxt(54, 928, -90, "middle", 26).text("ΔΨm, mV");
rtxt(560, 983, -90, "middle", 26).text("ΔΨm, mV");

// oxygen axis titles
function o2Title(x, y) {
  const t = rtxt(x, y, 90, "middle", 26);
  t.append("tspan").text("[O");
  t.append("tspan").attr("font-size", 17).attr("dy", 6).text("2");
  t.append("tspan").attr("dy", -6).text("], µM");
}
o2Title(528, 1115);
o2Title(1037, 1120);

// time labels
txt(526, 661, "time, s", {anchor: "start", size: 24});
txt(519, 1418, "time, s", {anchor: "start", size: 24});

// legend: membrane potential
svg.append("line").attr("x1", 1064).attr("x2", 1064).attr("y1", 83).attr("y2", 148)
  .attr("stroke", BLACK).attr("stroke-width", 1.3);
rtxt(1054, 162, 90, "start", 25).text("WT (ΔΨm)");
svg.append("line").attr("x1", 1063).attr("x2", 1063).attr("y1", 303).attr("y2", 368)
  .attr("stroke", RED).attr("stroke-width", 1.3);
{
  const t = rtxt(1054, 390, 90, "start", 25);
  t.append("tspan").attr("font-style", "italic").text("Sucla2");
  t.append("tspan").text(" +/- (ΔΨm)");
}

// legend: oxygen
svg.append("line").attr("x1", 1081).attr("x2", 1081).attr("y1", 873).attr("y2", 938)
  .attr("stroke", "#222").attr("stroke-width", 1.4).attr("stroke-dasharray", "1.2,3");
{
  const t = rtxt(1073, 957, 90, "start", 25);
  t.append("tspan").text("WT (O");
  t.append("tspan").attr("font-size", 16).attr("dy", 6).text("2");
  t.append("tspan").attr("dy", -6).text(")");
}
svg.append("line").attr("x1", 1081).attr("x2", 1081).attr("y1", 1070).attr("y2", 1135)
  .attr("stroke", "#d24a4a").attr("stroke-width", 1.4).attr("stroke-dasharray", "1.2,3");
{
  const t = rtxt(1072, 1157, 90, "start", 25);
  t.append("tspan").attr("font-style", "italic").text("Sucla2");
  t.append("tspan").text(" +/- (O");
  t.append("tspan").attr("font-size", 16).attr("dy", 6).text("2");
  t.append("tspan").attr("dy", -6).text(")");
}
</script>
</body>
</html>
